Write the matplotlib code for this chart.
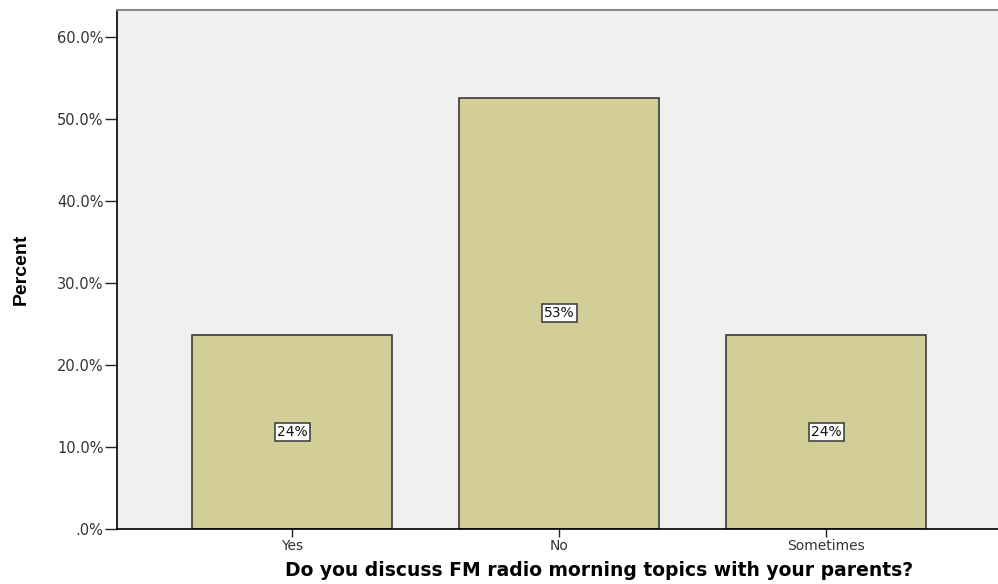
import matplotlib.pyplot as plt
import matplotlib.font_manager as fm

categories = ['Yes', 'No', 'Sometimes']
percents = [23.7, 52.6, 23.7]
bar_labels = ['24%', '53%', '24%']
yticks = [0, 10, 20, 30, 40, 50, 60]
ytick_labels = ['.0%', '10.0%', '20.0%', '30.0%', '40.0%', '50.0%', '60.0%']

names = {f.name for f in fm.fontManager.ttflist}
narrow = 'Liberation Sans Narrow' if 'Liberation Sans Narrow' in names else 'Liberation Sans'
plt.rcParams['font.family'] = ['DejaVu Sans']

fig = plt.figure(figsize=(9.98, 5.84), dpi=100)
ax = fig.add_axes([0.117, 0.094, 0.883, 0.889])
ax.set_facecolor('#f0f0f0')

x = range(len(categories))
ax.bar(x, percents, width=0.75, color='#d3cd97', edgecolor='#3a3a3a', linewidth=1.2, zorder=2)

# labels sit in the middle of each bar
for i, (v, lab) in enumerate(zip(percents, bar_labels)):
    ax.text(i, v / 2, lab, ha='center', va='center', fontsize=10, color='#111111',
            bbox=dict(boxstyle='square,pad=0.15', facecolor='white', edgecolor='#444444', linewidth=1.2),
            zorder=3)

ax.set_xlim(-0.657, 2.643)
ax.set_ylim(0, 63.3)
ax.set_yticks(yticks)
ax.set_yticklabels(ytick_labels, fontsize=10.5, color='#333333')
ax.set_xticks(list(x))
ax.set_xticklabels(categories, fontsize=10, color='#333333')
ax.tick_params(axis='y', length=9, width=1, color='#222222', pad=0.5)
ax.tick_params(axis='x', length=6, width=1, color='#222222', pad=1)

ax.spines['right'].set_visible(False)
ax.spines['top'].set_color('#888888')
ax.spines['top'].set_linewidth(1.5)
ax.spines['left'].set_linewidth(1.2)
ax.spines['bottom'].set_linewidth(1.2)

ax.set_ylabel('Percent', fontsize=14, fontweight='bold', family=narrow)
ax.yaxis.set_label_coords(-0.099, 0.5)
ax.set_xlabel('Do you discuss FM radio morning topics with your parents?',
              fontsize=13.5, fontweight='bold')
ax.xaxis.set_label_coords(0.547, -0.062)

fig.savefig('out.png', dpi=100)
